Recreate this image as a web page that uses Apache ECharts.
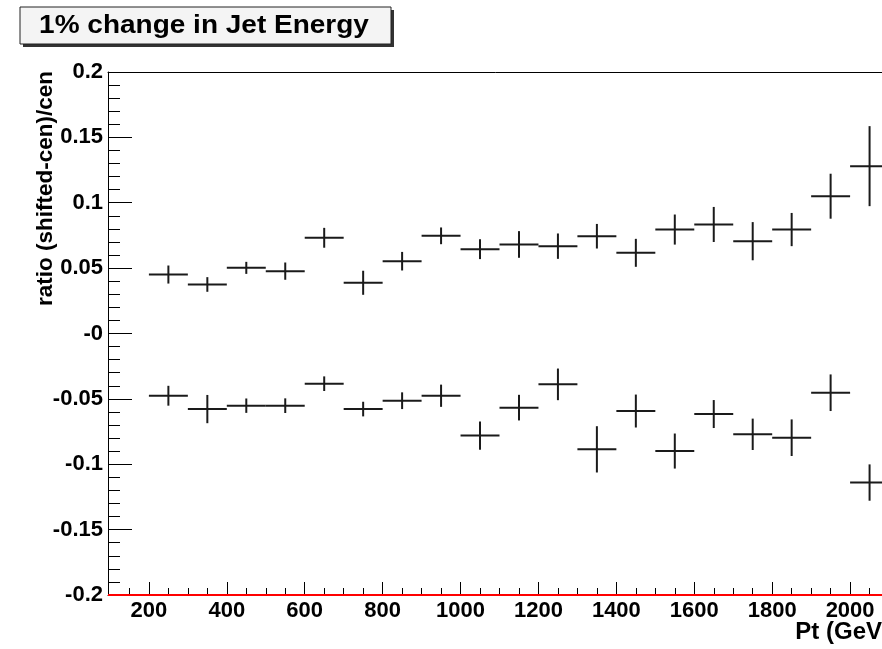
<!DOCTYPE html>
<html><head><meta charset="utf-8">
<script src="https://cdn.jsdelivr.net/npm/echarts@6/dist/echarts.min.js"></script>
<style>html,body{margin:0;padding:0;background:#fff}#c{width:882px;height:649px}</style>
</head><body><div id="c"></div>
<script>
var binCenters = [250,350,450,550,650,750,850,950,1050,1150,1250,1350,1450,1550,1650,1750,1850,1950,2050];
var binWidth = 100;
var upperVals = [0.0451,0.0375,0.0502,0.0477,0.0732,0.0388,0.0553,0.0747,0.0645,0.0681,0.0668,0.0744,0.0617,0.0795,0.0834,0.0706,0.0795,0.105,0.128];
var upperErr  = [0.0069,0.0056,0.0046,0.0066,0.0076,0.0092,0.0071,0.0064,0.0076,0.0102,0.0097,0.0094,0.0107,0.0115,0.0134,0.0146,0.0127,0.0172,0.0306];
var lowerVals = [-0.0476,-0.0578,-0.0552,-0.0552,-0.0384,-0.0578,-0.0514,-0.0476,-0.0781,-0.0567,-0.0389,-0.0886,-0.0593,-0.0899,-0.0616,-0.0771,-0.0797,-0.0453,-0.114];
var lowerErr  = [0.0076,0.0108,0.0055,0.0056,0.0056,0.0056,0.0064,0.0085,0.0108,0.0098,0.0121,0.0177,0.0126,0.0134,0.0107,0.012,0.014,0.014,0.0139];
var xMajorTicks = [200,400,600,800,1000,1200,1400,1600,1800,2000];
var xMinorTicks = [150,250,300,350,450,500,550,650,700,750,850,900,950,1050,1100,1150,1250,1300,1350,1450,1500,1550,1650,1700,1750,1850,1900,1950,2050,2100];
var yTickLabels = {'0.2':'0.2','0.15':'0.15','0.1':'0.1','0.05':'0.05','0':'-0','-0.05':'-0.05','-0.1':'-0.1','-0.15':'-0.15','-0.2':'-0.2'};
var titleText = '1% change in Jet Energy';
var xTitle = 'Pt (GeV';
var yTitle = 'ratio (shifted-cen)/cen';

var FONT = "'Liberation Sans', Arial, Helvetica, sans-serif";
function mk(vals, errs) {
  return binCenters.map(function(c, i){ return [c, vals[i], errs[i]]; });
}
function renderErr(params, api) {
  var x = api.value(0), y = api.value(1), e = api.value(2);
  var pL = api.coord([x - binWidth/2, y]);
  var pR = api.coord([x + binWidth/2, y]);
  var pT = api.coord([x, y + e]);
  var pB = api.coord([x, y - e]);
  var st = {stroke:'#1a1a1a', lineWidth:2, fill:null};
  return {type:'group', children:[
    {type:'line', shape:{x1:pL[0],y1:pL[1],x2:pR[0],y2:pR[1]}, style:st},
    {type:'line', shape:{x1:pT[0],y1:pT[1],x2:pB[0],y2:pB[1]}, style:st}
  ]};
}
var chart = echarts.init(document.getElementById('c'), null, {renderer:'canvas'});
chart.setOption({
  animation:false,
  backgroundColor:'#fff',
  grid:{left:108, top:72, height:523, width:783, outerBoundsMode:'none', containLabel:false, show:false},
  xAxis:[{
    type:'value', min:95, max:2105, position:'bottom',
    axisLine:{show:true, onZero:false, lineStyle:{color:'#000', width:1}},
    axisTick:{show:true, inside:true, length:13, customValues:xMajorTicks, lineStyle:{color:'#000', width:1}},
    axisLabel:{show:true, customValues:xMajorTicks, fontFamily:FONT, fontWeight:'bold', fontSize:22, color:'#000', margin:5,
      formatter:function(v){ return String(Math.round(v)); }},
    splitLine:{show:false}
  },{
    type:'value', min:95, max:2105, position:'bottom',
    axisLine:{show:false, onZero:false},
    axisTick:{show:true, inside:true, length:7, customValues:xMinorTicks, lineStyle:{color:'#000', width:1}},
    axisLabel:{show:false},
    splitLine:{show:false}
  },{
    type:'value', min:95, max:2105, position:'top',
    axisLine:{show:true, onZero:false, lineStyle:{color:'#000', width:1}},
    axisTick:{show:false}, axisLabel:{show:false}, splitLine:{show:false}
  }],
  yAxis:{
    type:'value', min:-0.2, max:0.2, interval:0.05,
    axisLine:{show:true, onZero:false, lineStyle:{color:'#000', width:1}},
    axisTick:{show:true, inside:true, length:24, lineStyle:{color:'#000', width:1}},
    minorTick:{show:true, splitNumber:5, length:12, lineStyle:{color:'#000', width:1}},
    axisLabel:{fontFamily:FONT, fontWeight:'bold', fontSize:22, color:'#000', margin:5,
      formatter:function(v){ var k = String(Math.round(v*100)/100); return yTickLabels[k] !== undefined ? yTickLabels[k] : k; }},
    splitLine:{show:false}
  },
  series:[
    {type:'custom', renderItem:renderErr, data:mk(upperVals, upperErr), encode:{x:0,y:1}, clip:false,
      markLine:{silent:true, symbol:'none', label:{show:false}, lineStyle:{color:'#ff0000', width:2, type:'solid'}, data:[{yAxis:-0.2}]}},
    {type:'custom', renderItem:renderErr, data:mk(lowerVals, lowerErr), encode:{x:0,y:1}, clip:false}
  ],
  graphic:[
    {type:'rect', shape:{x:23, y:10, width:371, height:37}, style:{fill:'#333'}, z:10},
    {type:'rect', shape:{x:20, y:7, width:371, height:37}, style:{fill:'#f4f4f4', stroke:'#222', lineWidth:1}, z:11},
    {type:'text', x:204, y:26, scaleX:1.12, z:12, style:{text:titleText, font:"bold 25px " + FONT, fill:'#000', align:'center', verticalAlign:'middle'}},
    {type:'text', x:882, y:632, z:12, style:{text:xTitle, font:"bold 24px " + FONT, fill:'#000', align:'right', verticalAlign:'middle'}},
    {type:'text', x:46, y:71, rotation:Math.PI/2, z:12, style:{text:yTitle, font:"bold 22.5px " + FONT, fill:'#000', align:'right', verticalAlign:'middle'}}
  ]
});
</script></body></html>
